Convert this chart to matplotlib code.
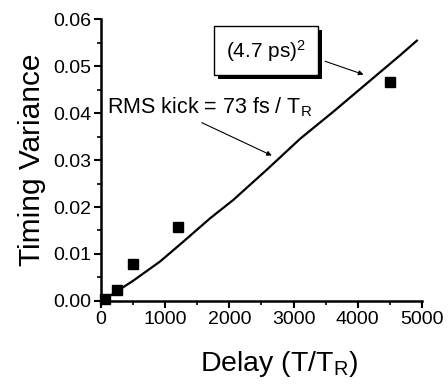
import matplotlib
matplotlib.use("Agg")
import matplotlib.pyplot as plt
from matplotlib.patches import Rectangle
from matplotlib.ticker import MultipleLocator, FormatStrFormatter

plt.rcParams['font.family'] = ['Liberation Sans', 'DejaVu Sans']
plt.rcParams['mathtext.fontset'] = 'custom'
plt.rcParams['mathtext.rm'] = 'Liberation Sans'
plt.rcParams['mathtext.it'] = 'Liberation Sans'

# measured timing variance vs delay
delay = [60, 250, 500, 1200, 4500]
variance = [0.0005, 0.0024, 0.0078, 0.0158, 0.0466]

# simulated random-walk curve
sim_delay = [0, 60, 500, 920, 1280, 1700, 2060, 2580, 3100, 3620, 4140, 4660, 4920]
sim_var = [0, 0.0004, 0.0043, 0.0084, 0.0126, 0.0176, 0.0215, 0.0279,
           0.0345, 0.0403, 0.0463, 0.0523, 0.0554]

fig = plt.figure(figsize=(4.48, 3.85), dpi=100)
ax = fig.add_axes([0.2254, 0.2182, 0.7166, 0.7324])

ax.plot(sim_delay, sim_var, color='black', lw=1.6)
ax.plot(delay, variance, 's', color='black', ms=7, clip_on=False, zorder=3)

ax.set_xlim(0, 5000)
ax.set_ylim(0, 0.06)
ax.xaxis.set_major_locator(MultipleLocator(1000))
ax.xaxis.set_minor_locator(MultipleLocator(500))
ax.yaxis.set_major_locator(MultipleLocator(0.01))
ax.yaxis.set_minor_locator(MultipleLocator(0.005))
ax.yaxis.set_major_formatter(FormatStrFormatter('%.2f'))

for s in ['top', 'right']:
    ax.spines[s].set_visible(False)
for s in ['left', 'bottom']:
    ax.spines[s].set_linewidth(1.8)
ax.tick_params(which='major', direction='out', length=5, width=1.5,
               labelsize=14, pad=2)
ax.tick_params(which='minor', direction='out', length=3, width=1.2)

ax.set_xlabel(r'Delay (T/T$_\mathregular{R}$)', fontsize=20.5, labelpad=15)
ax.xaxis.label.set_x(0.555)
ax.set_ylabel('Timing Variance', fontsize=21.5, labelpad=5)

# boxed label with a drop shadow behind it
box_txt = ax.text(0.514, 0.887, r'(4.7 ps)$^\mathregular{2}$', transform=ax.transAxes,
                  ha='center', va='center', fontsize=15, zorder=5,
                  bbox=dict(boxstyle='square,pad=0.55', fc='white', ec='black', lw=1.0))
fig.canvas.draw()
bb = box_txt.get_bbox_patch().get_window_extent()
(x0, y0), (x1, y1) = ax.transAxes.inverted().transform(
    [[bb.x0 + 4, bb.y0 - 4], [bb.x1 + 4, bb.y1 - 4]])
ax.add_patch(Rectangle((x0, y0), x1 - x0, y1 - y0, transform=ax.transAxes,
                       fc='black', ec='none', zorder=4, clip_on=False))
ax.annotate('', xy=(4130, 0.0480), xytext=(3450, 0.0512),
            arrowprops=dict(arrowstyle='-|>', color='black', lw=0.8,
                            mutation_scale=7))

ax.text(0.018, 0.0412, r'RMS kick = 73 fs / T$_\mathregular{R}$', fontsize=15.5,
        ha='left', va='center', transform=ax.get_yaxis_transform())
ax.annotate('', xy=(2700, 0.0307), xytext=(1530, 0.0382),
            arrowprops=dict(arrowstyle='-|>', color='black', lw=0.8,
                            mutation_scale=7))

fig.savefig('out.png', dpi=100)
